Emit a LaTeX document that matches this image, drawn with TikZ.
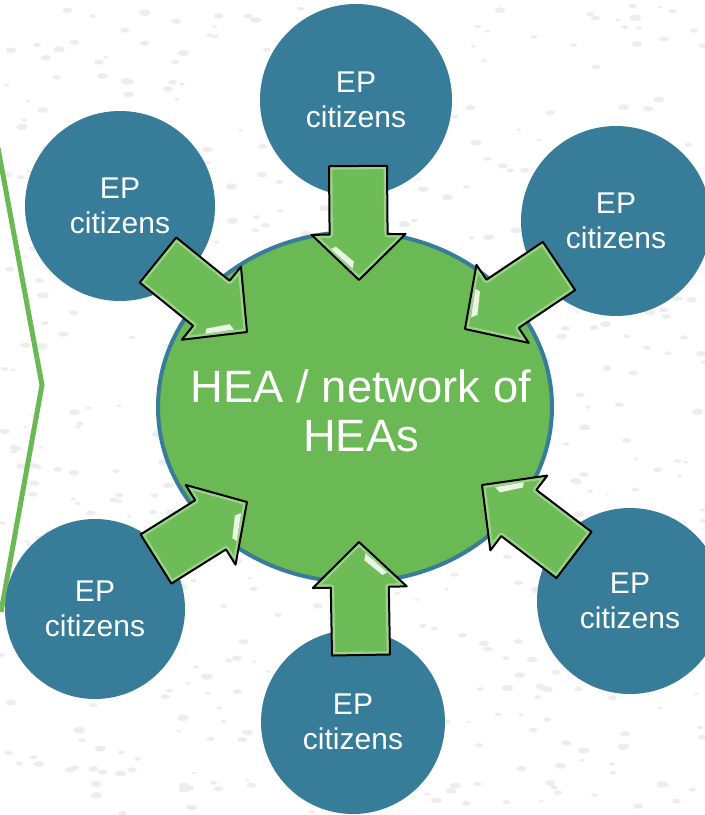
\documentclass[tikz,border=0pt]{standalone}
\usepackage{fontspec}
\setmainfont{Liberation Sans}
\usetikzlibrary{calc,shapes.geometric}
\definecolor{epblue}{HTML}{377C98}
\definecolor{heagreen}{HTML}{6BB954}
\definecolor{arrowgreen}{HTML}{6DBC57}
\definecolor{arrowlight}{HTML}{A6DA96}
\definecolor{speck}{HTML}{EDEDED}
\tikzset{
  satellite/.style={circle, fill=epblue, text=white, inner sep=0pt,
    font=\fontsize{22.5}{26}\selectfont, align=center},
  hub/.style={ellipse, draw=epblue, line width=3pt, fill=heagreen, inner sep=0pt},
  hubtext/.style={text=white, inner sep=0pt, font=\fontsize{34}{37}\selectfont, align=center},
  arrowline/.style={black, line width=1.5pt, line join=round},
}
\newcommand\blockarrow[2]{%
  \coordinate (bh) at ($(#1)!0.6!(#2)$);
  \coordinate (p1) at ($(#1)!21.75pt!90:(#2)$);
  \coordinate (p2) at ($(bh)!21.75pt!90:(#2)$);
  \coordinate (p3) at ($(bh)!35.25pt!90:(#2)$);
  \coordinate (p5) at ($(bh)!35.25pt!-90:(#2)$);
  \coordinate (p6) at ($(bh)!21.75pt!-90:(#2)$);
  \coordinate (p7) at ($(#1)!21.75pt!-90:(#2)$);
  \begin{scope}
    \clip (p1) -- (p2) -- (p3) -- (#2) -- (p5) -- (p6) -- (p7) -- cycle;
    \fill[arrowgreen] (p1) -- (p2) -- (p3) -- (#2) -- (p5) -- (p6) -- (p7) -- cycle;
    \draw[arrowlight, line width=5pt, line join=round, opacity=0.8]
      (p1) -- (p2) -- (p3) -- (#2) -- (p5) -- (p6) -- (p7) -- cycle;
  \end{scope}
  \coordinate (q1) at ($(p5)!0.35!(#2)$);
  \coordinate (q2) at ($(p5)!0.85!(#2)$);
  \fill[white, opacity=0.85] ($(q1)!0.1!(bh)$) -- ($(q2)!0.12!(bh)$)
    -- ($(q2)!0.3!(bh)$) -- ($(q1)!0.25!(bh)$) -- cycle;
  \draw[arrowline] (p1) -- (p2) -- (p3) -- (#2) -- (p5) -- (p6) -- (p7) -- cycle;
}
\begin{document}
\begin{tikzpicture}[x=0.75pt, y=-0.75pt]
  \useasboundingbox (0,0) rectangle (705,815);
  \fill[white] (0,0) rectangle (705,815);
  % background speckles
  \pgfmathsetseed{12}
  \foreach \i in {1,...,600}{
    \pgfmathsetmacro\xx{rnd*705}
    \pgfmathsetmacro\yy{rnd*815}
    \pgfmathsetmacro\rr{2+rnd*4}
    \fill[speck] (\xx,\yy) ellipse [x radius=\rr*0.75pt, y radius=\rr*0.4pt];
  }
  % left green bracket line
  \coordinate (g1) at (-2,148);
  \coordinate (g2) at (42,385);
  \coordinate (g3) at (1,612);
  \draw[heagreen, line width=3.75pt] (g1) -- (g2) -- (g3);
  % satellites
  \node[satellite, minimum size=144pt]   (top) at (356,100) {EP\\citizens};
  \node[satellite, minimum size=142.5pt] (tl)  at (120,206) {EP\\citizens};
  \node[satellite, minimum size=142.5pt] (tr)  at (616,221) {EP\\citizens};
  \node[satellite, minimum size=135pt]   (bl)  at (95,609)  {EP\\citizens};
  \node[satellite, minimum size=139.5pt] (br)  at (630,601) {EP\\citizens};
  \node[satellite, minimum size=138pt]   (bot) at (353,722) {EP\\citizens};
  % hub
  \node[hub, minimum width=295.5pt, minimum height=262.5pt] (hea) at (355,407) {};
  \node[hubtext] (heatext) at ($(hea.center)+(6,4)$) {HEA / network of\\HEAs};
  % arrow endpoints
  \coordinate (a1t) at (358,166); \coordinate (a1h) at (359,280);
  \coordinate (a2t) at (158,260); \coordinate (a2h) at (247,332);
  \coordinate (a3t) at (559,266); \coordinate (a3h) at (465,329);
  \coordinate (a4t) at (156,559); \coordinate (a4h) at (247,502);
  \coordinate (a5t) at (574,555); \coordinate (a5h) at (482,485);
  \coordinate (a6t) at (361,655); \coordinate (a6h) at (359,542);
  \blockarrow{a1t}{a1h}
  \blockarrow{a2t}{a2h}
  \blockarrow{a3t}{a3h}
  \blockarrow{a4t}{a4h}
  \blockarrow{a5t}{a5h}
  \blockarrow{a6t}{a6h}
\end{tikzpicture}
\end{document}
